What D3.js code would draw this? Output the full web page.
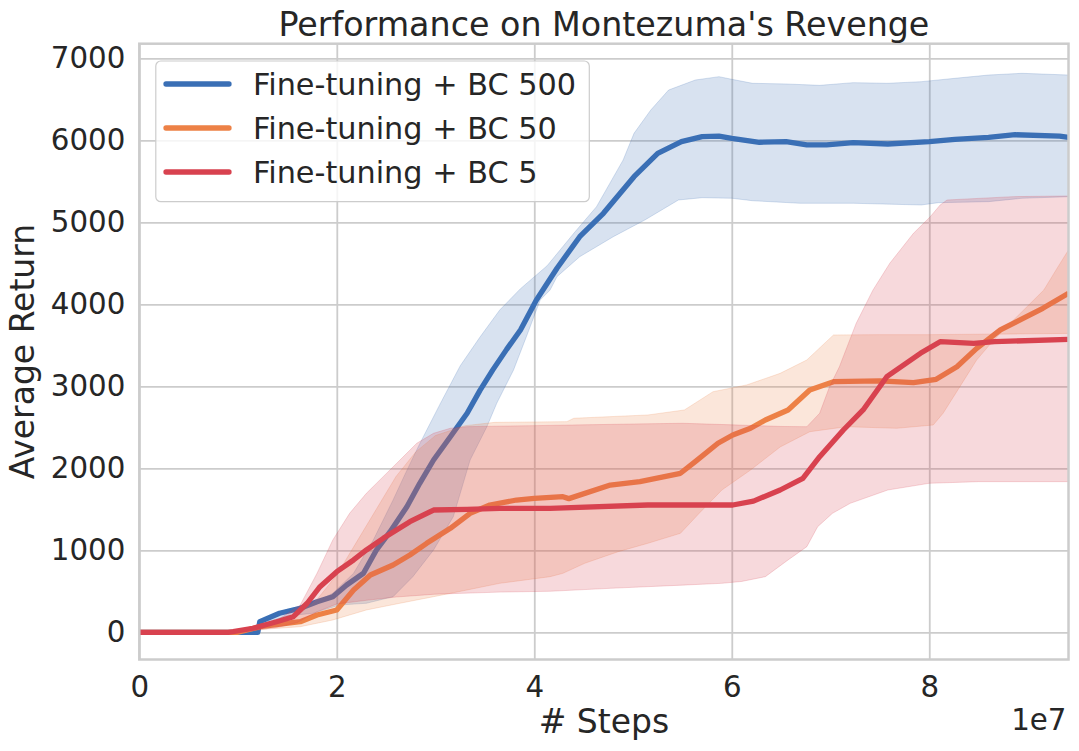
<!DOCTYPE html>
<html>
<head>
<meta charset="utf-8">
<script src="https://cdn.jsdelivr.net/npm/d3@7"></script>
<style>
  body { margin: 0; background: #fff; }
  text { font-family: "DejaVu Sans", sans-serif; fill: #262626; }
</style>
</head>
<body>
<div id="chart"></div>
<script>
// steps are in units of 1e7, values are average return
var seriesNames = ["Fine-tuning + BC 500", "Fine-tuning + BC 50", "Fine-tuning + BC 5"];
var seriesColors = ["#3a6fb5", "#ed8146", "#d8424f"];
var xTicks = [0, 2, 4, 6, 8];
var yTicks = [0, 1000, 2000, 3000, 4000, 5000, 6000, 7000];

var bc500Mean = [[0,0],[1.2,0],[1.22,130],[1.42,232],[1.63,293],[1.8,373],[1.96,434],[2.1,577],[2.27,720],
  [2.4,1000],[2.54,1227],[2.71,1532],[2.84,1817],[2.98,2101],[3.15,2385],[3.32,2671],[3.45,2950],[3.58,3200],
  [3.72,3450],[3.86,3687],[4.02,4050],[4.23,4440],[4.46,4824],[4.7,5110],[5.01,5556],[5.25,5841],[5.49,5983],
  [5.7,6044],[5.87,6052],[6.0,6024],[6.28,5976],[6.55,5983],[6.76,5943],[6.96,5943],[7.23,5971],[7.58,5955],
  [8.0,5983],[8.26,6012],[8.6,6036],[8.87,6068],[9.32,6052],[9.41,6036]];
var bc500Upper = [[0,0],[1.2,0],[1.22,150],[1.5,280],[1.76,354],[1.96,476],[2.17,720],[2.37,1126],[2.57,1613],
  [2.7,1950],[2.84,2300],[3.05,2793],[3.25,3250],[3.45,3600],[3.65,3930],[3.86,4190],[4.13,4470],[4.4,4866],
  [4.63,5190],[4.9,5760],[5.01,6085],[5.18,6370],[5.36,6613],[5.63,6735],[5.87,6776],[6.0,6744],[6.21,6695],
  [6.55,6687],[6.89,6670],[7.23,6703],[7.58,6695],[7.92,6715],[8.26,6756],[8.6,6796],[8.94,6817],[9.41,6796]];
var bc500Lower = [[0,0],[1.2,0],[1.22,100],[1.5,200],[1.76,232],[2.03,333],[2.3,354],[2.57,434],[2.77,678],
  [2.98,1004],[3.18,1410],[3.35,2101],[3.52,2507],[3.62,2793],[3.79,3199],[3.92,3605],[4.06,4052],[4.16,4174],
  [4.23,4337],[4.46,4580],[4.8,4824],[5.12,5028],[5.46,5272],[5.7,5300],[6.0,5293],[6.21,5263],[6.69,5232],
  [7.23,5232],[7.92,5211],[8.09,5239],[8.6,5252],[8.94,5293],[9.41,5312]];

var bc50Mean = [[0,0],[1.0,0],[1.22,68],[1.63,129],[1.8,211],[2.0,272],[2.17,516],[2.34,699],[2.57,821],
  [2.74,943],[2.91,1085],[3.15,1268],[3.35,1451],[3.55,1552],[3.82,1613],[4.0,1634],[4.29,1654],[4.35,1630],
  [4.77,1796],[5.07,1837],[5.48,1939],[5.63,2081],[5.86,2305],[6.01,2406],[6.19,2488],[6.34,2589],[6.57,2711],
  [6.79,2955],[7.03,3056],[7.5,3065],[7.84,3044],[8.07,3085],[8.28,3239],[8.48,3463],[8.72,3687],[8.95,3829],
  [9.15,3951],[9.41,4134]];
var bc50EdgeA = [[0,0],[1.0,0],[1.3,80],[1.6,200],[1.8,400],[2.0,700],[2.2,1100],[2.4,1500],[2.6,1900],
  [2.8,2200],[3.0,2400],[3.3,2520],[3.6,2560],[4.33,2569],[4.4,2610],[5.15,2650],[5.52,2711],[5.81,2934],
  [6.15,3016],[6.49,3158],[6.76,3321],[7.03,3626],[7.5,3630],[8.0,3630],[8.5,3635],[9.0,3640],[9.41,3645]];
var bc50EdgeB = [[0,0],[1.0,0],[1.3,40],[1.63,68],[1.96,150],[2.3,272],[2.64,354],[2.98,434],[3.32,516],
  [3.65,597],[4.16,678],[4.29,719],[4.51,841],[4.85,983],[5.15,1085],[5.48,1207],[5.67,1451],[5.9,1735],
  [6.19,1979],[6.49,2260],[6.79,2446],[7.16,2507],[7.67,2488],[8.04,2528],[8.14,2671],[8.31,2995],[8.48,3321],
  [8.65,3560],[8.82,3768],[8.99,3971],[9.16,4174],[9.3,4450],[9.41,4663]];

var bc5Mean = [[0,0],[0.9,0],[0.95,7],[1.15,49],[1.39,129],[1.56,190],[1.7,354],[1.83,556],[2.0,739],
  [2.17,882],[2.3,1004],[2.47,1146],[2.74,1349],[2.98,1491],[3.32,1500],[3.65,1512],[4.16,1512],[5.15,1552],
  [6.01,1552],[6.22,1600],[6.49,1735],[6.72,1878],[6.89,2141],[7.13,2467],[7.33,2711],[7.57,3117],[7.91,3402],
  [8.11,3544],[8.45,3524],[8.66,3544],[9.41,3573]];
var bc5Upper = [[0,0],[0.9,0],[1.2,60],[1.4,150],[1.63,333],[1.8,720],[1.96,1126],[2.13,1451],[2.3,1695],
  [2.47,1898],[2.64,2101],[2.81,2305],[2.98,2427],[3.15,2488],[3.32,2508],[4.0,2520],[4.5,2530],[5.0,2540],
  [5.5,2549],[6.0,2530],[6.5,2510],[6.76,2507],[6.89,2671],[6.99,2995],[7.09,3239],[7.26,3768],[7.43,4174],
  [7.6,4500],[7.84,4866],[8.01,5068],[8.11,5211],[8.18,5272],[8.85,5313],[9.41,5321]];
var bc5Lower = [[0,0],[0.9,0],[1.2,30],[1.4,60],[1.6,120],[1.8,250],[2.0,345],[2.3,390],[2.6,430],[3.0,465],
  [3.65,490],[4.16,500],[4.77,536],[5.5,575],[5.9,597],[6.1,620],[6.34,678],[6.57,882],[6.76,1044],[6.87,1288],
  [7.02,1451],[7.2,1573],[7.58,1735],[8.0,1817],[8.5,1837],[9.41,1837]];

var series = [
  { name: seriesNames[0], color: seriesColors[0], mean: bc500Mean, edgeA: bc500Upper, edgeB: bc500Lower },
  { name: seriesNames[1], color: seriesColors[1], mean: bc50Mean, edgeA: bc50EdgeA, edgeB: bc50EdgeB },
  { name: seriesNames[2], color: seriesColors[2], mean: bc5Mean, edgeA: bc5Upper, edgeB: bc5Lower }
];

var W = 1079, H = 751;
var plotLeft = 139.3, plotRight = 1068.5, plotTop = 43.7, plotBottom = 659.5;

var svg = d3.select("#chart").append("svg").attr("width", W).attr("height", H);

var x = d3.scaleLinear().domain([0, 9.41]).range([plotLeft, plotRight]);
var y = d3.scaleLinear().domain([-332, 7178]).range([plotBottom, plotTop]);

// grid
svg.append("g")
  .attr("transform", "translate(0," + plotBottom + ")")
  .call(d3.axisBottom(x).tickValues(xTicks).tickSize(-(plotBottom - plotTop)).tickFormat(""))
  .call(function (g) {
    g.select(".domain").remove();
    g.selectAll("line").attr("stroke", "#cccccc").attr("stroke-width", 1.8);
  });
svg.append("g")
  .attr("transform", "translate(" + plotLeft + ",0)")
  .call(d3.axisLeft(y).tickValues(yTicks).tickSize(-(plotRight - plotLeft)).tickFormat(""))
  .call(function (g) {
    g.select(".domain").remove();
    g.selectAll("line").attr("stroke", "#cccccc").attr("stroke-width", 1.8);
  });

svg.append("clipPath").attr("id", "clip")
  .append("rect").attr("x", plotLeft).attr("y", plotTop)
  .attr("width", plotRight - plotLeft).attr("height", plotBottom - plotTop);

var plot = svg.append("g").attr("clip-path", "url(#clip)");

var line = d3.line()
  .x(function (d) { return x(d[0]); })
  .y(function (d) { return y(d[1]); });
var band = d3.line()
  .x(function (d) { return x(d[0]); })
  .y(function (d) { return y(d[1]); })
  .curve(d3.curveLinearClosed);

series.forEach(function (s) {
  plot.append("path")
    .attr("d", band(s.edgeA.concat(s.edgeB.slice().reverse())))
    .attr("fill", s.color)
    .attr("fill-opacity", 0.2)
    .attr("stroke", s.color)
    .attr("stroke-opacity", 0.2)
    .attr("stroke-width", 1);
  plot.append("path")
    .attr("d", line(s.mean))
    .attr("fill", "none")
    .attr("stroke", s.color)
    .attr("stroke-width", 5.3)
    .attr("stroke-linejoin", "round")
    .attr("stroke-linecap", "butt");
});

// frame
svg.append("rect")
  .attr("x", plotLeft).attr("y", plotTop)
  .attr("width", plotRight - plotLeft).attr("height", plotBottom - plotTop)
  .attr("fill", "none").attr("stroke", "#cccccc").attr("stroke-width", 2.5);

// tick labels
svg.append("g")
  .attr("transform", "translate(0," + plotBottom + ")")
  .call(d3.axisBottom(x).tickValues(xTicks).tickSize(0).tickPadding(17).tickFormat(d3.format("d")))
  .call(function (g) {
    g.select(".domain").remove();
    g.attr("font-family", null).attr("font-size", null);
    g.selectAll("text").style("font-size", "29.3px").attr("fill", "#262626");
  });
svg.append("g")
  .attr("transform", "translate(" + plotLeft + ",0)")
  .call(d3.axisLeft(y).tickValues(yTicks).tickSize(0).tickPadding(14).tickFormat(d3.format("d")))
  .call(function (g) {
    g.select(".domain").remove();
    g.attr("font-family", null).attr("font-size", null);
    g.selectAll("text").style("font-size", "29.3px").attr("fill", "#262626");
  });

svg.append("text").attr("x", plotRight - 2).attr("y", 730)
  .attr("text-anchor", "end").style("font-size", "29.3px").text("1e7");

// labels and title
svg.append("text").attr("x", (plotLeft + plotRight) / 2).attr("y", 733)
  .attr("text-anchor", "middle").style("font-size", "33px").text("# Steps");
svg.append("text")
  .attr("transform", "translate(34," + ((plotTop + plotBottom) / 2) + ") rotate(-90)")
  .attr("text-anchor", "middle").style("font-size", "33px").text("Average Return");
svg.append("text").attr("x", (plotLeft + plotRight) / 2).attr("y", 36)
  .attr("text-anchor", "middle").style("font-size", "33.3px").text("Performance on Montezuma's Revenge");

// legend
var legend = svg.append("g");
legend.append("rect")
  .attr("x", 155.8).attr("y", 61).attr("width", 433.5).attr("height", 140.7)
  .attr("rx", 5).attr("fill", "#fff").attr("fill-opacity", 0.8)
  .attr("stroke", "#cccccc").attr("stroke-width", 1.2);
series.forEach(function (s, i) {
  var ly = 84 + i * 44;
  legend.append("line")
    .attr("x1", 166).attr("x2", 229).attr("y1", ly).attr("y2", ly)
    .attr("stroke", s.color).attr("stroke-width", 5.3).attr("stroke-linecap", "round");
  legend.append("text")
    .attr("x", 253).attr("y", ly).attr("dy", "0.36em")
    .style("font-size", "30.3px").text(s.name);
});
</script>
</body>
</html>
